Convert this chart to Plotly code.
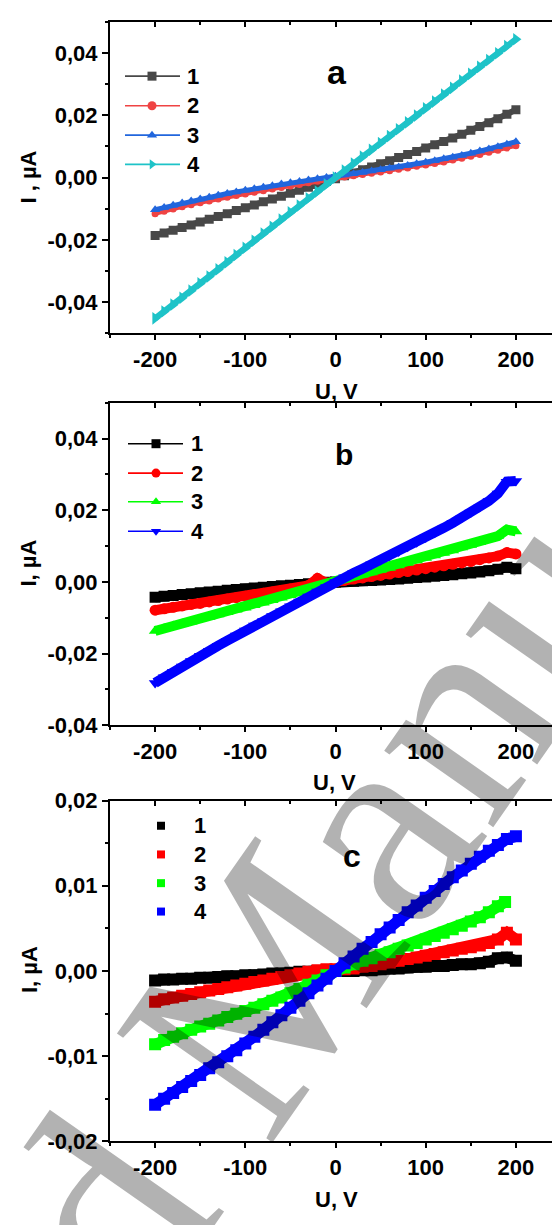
import plotly.graph_objects as go

# ---------------- data (current I in µA vs bias U in V) ----------------
U = [-200, -190, -180, -170, -160, -150, -140, -130, -120, -110,
     -100, -90, -80, -70, -60, -50, -40, -30, -20, -10,
     0, 10, 20, 30, 40, 50, 60, 70, 80, 90,
     100, 110, 120, 130, 140, 150, 160, 170, 180, 190, 200]

# panel a
A1 = [-0.0186, -0.0178, -0.0169, -0.0160, -0.0152, -0.0143, -0.0134, -0.0125, -0.0116, -0.0106,
      -0.0097, -0.0088, -0.0078, -0.0069, -0.0060, -0.0050, -0.0041, -0.0031, -0.0022, -0.0013,
      -0.0004, 0.0006, 0.0015, 0.0025, 0.0034, 0.0044, 0.0054, 0.0064, 0.0074, 0.0084,
      0.0095, 0.0105, 0.0116, 0.0127, 0.0139, 0.0152, 0.0164, 0.0176, 0.0189, 0.0203, 0.0218]
A2 = [-0.0116, -0.0108, -0.0101, -0.0094, -0.0087, -0.0081, -0.0075, -0.0069, -0.0063, -0.0058,
      -0.0053, -0.0047, -0.0042, -0.0037, -0.0032, -0.0027, -0.0022, -0.0017, -0.0012, -0.0007,
      -0.0002, 0.0002, 0.0006, 0.0010, 0.0014, 0.0018, 0.0022, 0.0027, 0.0031, 0.0036,
      0.0040, 0.0045, 0.0050, 0.0056, 0.0062, 0.0068, 0.0074, 0.0081, 0.0088, 0.0095, 0.0102]
A3 = [-0.0103, -0.0096, -0.0089, -0.0082, -0.0075, -0.0069, -0.0063, -0.0057, -0.0051, -0.0046,
      -0.0041, -0.0036, -0.0031, -0.0026, -0.0021, -0.0017, -0.0013, -0.0008, -0.0004, 0.0000,
      0.0004, 0.0008, 0.0012, 0.0016, 0.0021, 0.0025, 0.0030, 0.0034, 0.0039, 0.0044,
      0.0049, 0.0054, 0.0060, 0.0065, 0.0071, 0.0078, 0.0085, 0.0092, 0.0099, 0.0107, 0.0115]
A4 = [-0.0452, -0.0430, -0.0408, -0.0386, -0.0363, -0.0340, -0.0318, -0.0295, -0.0272, -0.0249,
      -0.0226, -0.0203, -0.0180, -0.0158, -0.0135, -0.0112, -0.0090, -0.0067, -0.0045, -0.0022,
      0.0000, 0.0022, 0.0045, 0.0067, 0.0089, 0.0111, 0.0133, 0.0155, 0.0177, 0.0199,
      0.0222, 0.0244, 0.0266, 0.0288, 0.0311, 0.0333, 0.0355, 0.0377, 0.0399, 0.0422, 0.0444]

# panel b
B1 = [-0.0043, -0.0040, -0.0038, -0.0035, -0.0033, -0.0030, -0.0028, -0.0026, -0.0023, -0.0021,
      -0.0019, -0.0017, -0.0015, -0.0013, -0.0011, -0.0009, -0.0007, -0.0005, -0.0003, -0.0001,
      0.0000, 0.0001, 0.0002, 0.0003, 0.0004, 0.0005, 0.0007, 0.0008, 0.0010, 0.0012,
      0.0014, 0.0016, 0.0018, 0.0020, 0.0023, 0.0025, 0.0028, 0.0031, 0.0035, 0.0041, 0.0037]
B2 = [-0.0079, -0.0075, -0.0071, -0.0067, -0.0063, -0.0060, -0.0056, -0.0052, -0.0048, -0.0044,
      -0.0040, -0.0036, -0.0032, -0.0028, -0.0024, -0.0020, -0.0016, -0.0010, 0.0010, -0.0003,
      0.0000, 0.0004, 0.0008, 0.0011, 0.0015, 0.0018, 0.0022, 0.0026, 0.0029, 0.0033,
      0.0037, 0.0041, 0.0045, 0.0049, 0.0053, 0.0057, 0.0062, 0.0067, 0.0072, 0.0082, 0.0078]
B3 = [-0.0137, -0.0130, -0.0123, -0.0117, -0.0111, -0.0104, -0.0098, -0.0091, -0.0085, -0.0078,
      -0.0072, -0.0065, -0.0058, -0.0051, -0.0044, -0.0037, -0.0030, -0.0022, -0.0015, -0.0007,
      0.0000, 0.0007, 0.0013, 0.0020, 0.0026, 0.0033, 0.0039, 0.0046, 0.0053, 0.0060,
      0.0067, 0.0074, 0.0081, 0.0088, 0.0096, 0.0103, 0.0111, 0.0119, 0.0128, 0.0146, 0.0141]
B4 = [-0.0282, -0.0266, -0.0251, -0.0236, -0.0221, -0.0206, -0.0192, -0.0178, -0.0164, -0.0150,
      -0.0136, -0.0122, -0.0109, -0.0095, -0.0082, -0.0068, -0.0055, -0.0041, -0.0027, -0.0014,
      0.0000, 0.0013, 0.0025, 0.0037, 0.0049, 0.0061, 0.0073, 0.0085, 0.0098, 0.0111,
      0.0124, 0.0137, 0.0151, 0.0165, 0.0179, 0.0194, 0.0209, 0.0226, 0.0247, 0.0280, 0.0282]

# panel c
C1 = [-0.0011, -0.0010, -0.0010, -0.0009, -0.0009, -0.0008, -0.0008, -0.0007, -0.0006, -0.0006,
      -0.0005, -0.0005, -0.0004, -0.0003, -0.0003, -0.0002, -0.0001, -0.0001, 0.0000, 0.0001,
      0.0001, 0.0000, 0.0000, 0.0001, 0.0001, 0.0002, 0.0003, 0.0003, 0.0004, 0.0005,
      0.0005, 0.0006, 0.0006, 0.0007, 0.0008, 0.0008, 0.0009, 0.0011, 0.0015, 0.0016, 0.0012]
C2 = [-0.0036, -0.0033, -0.0031, -0.0029, -0.0027, -0.0025, -0.0023, -0.0021, -0.0019, -0.0017,
      -0.0015, -0.0013, -0.0011, -0.0009, -0.0007, -0.0005, -0.0003, -0.0001, 0.0001, 0.0002,
      0.0002, 0.0002, 0.0003, 0.0005, 0.0006, 0.0008, 0.0010, 0.0012, 0.0014, 0.0016,
      0.0018, 0.0020, 0.0022, 0.0024, 0.0026, 0.0028, 0.0030, 0.0033, 0.0037, 0.0045, 0.0037]
U_C3 = [-200, -190, -180, -170, -160, -150, -140, -130, -120, -110,
        -100, -90, -80, -70, -60, -50, -40, -30, -20, -10,
        0, 10, 20, 30, 40, 50, 60, 70, 80, 90,
        100, 110, 120, 130, 140, 150, 160, 170, 180, 188]
C3 = [-0.0086, -0.0081, -0.0077, -0.0073, -0.0069, -0.0065, -0.0062, -0.0058, -0.0054, -0.0050,
      -0.0047, -0.0043, -0.0039, -0.0035, -0.0031, -0.0026, -0.0021, -0.0016, -0.0011, -0.0005,
      0.0000, 0.0004, 0.0008, 0.0012, 0.0015, 0.0019, 0.0022, 0.0026, 0.0030, 0.0033,
      0.0037, 0.0041, 0.0045, 0.0049, 0.0053, 0.0058, 0.0063, 0.0069, 0.0076, 0.0081]
C4 = [-0.0157, -0.0150, -0.0143, -0.0136, -0.0129, -0.0122, -0.0114, -0.0107, -0.0100, -0.0093,
      -0.0085, -0.0077, -0.0069, -0.0060, -0.0052, -0.0043, -0.0035, -0.0026, -0.0017, -0.0009,
      0.0000, 0.0009, 0.0017, 0.0026, 0.0034, 0.0043, 0.0051, 0.0060, 0.0069, 0.0077,
      0.0086, 0.0094, 0.0102, 0.0110, 0.0118, 0.0126, 0.0134, 0.0141, 0.0148, 0.0155, 0.0158]

SERIES_NAMES = ["1", "2", "3", "4"]
PANEL_LABELS = ["a", "b", "c"]

X_TICKS = [-200, -100, 0, 100, 200]
X_TICKTEXT = ["-200", "-100", "0", "100", "200"]
Y_TICKS_AB = [-0.04, -0.02, 0.0, 0.02, 0.04]
Y_TICKTEXT_AB = ["-0,04", "-0,02", "0,00", "0,02", "0,04"]
Y_TICKS_C = [-0.02, -0.01, 0.0, 0.01, 0.02]
Y_TICKTEXT_C = ["-0,02", "-0,01", "0,00", "0,01", "0,02"]

# ---------------- layout geometry (pixels) ----------------
W, H = 552, 1225
LEFT = 110
BOXES = [(10, 328), (399, 728), (805, 1153)]   # (top, bottom) of each plot area
X_RANGE = [-250, 240]
Y_RANGES = [[-0.05, 0.05], [-0.04, 0.05], [-0.02, 0.02]]

FONT = "Liberation Sans, Arial, sans-serif"


def ydom(top, bottom):
    return [1 - bottom / H, 1 - top / H]


fig = go.Figure()

styles_a = [
    dict(color="#484848", symbol="square", size=9, lw=6),
    dict(color="#ef4343", symbol="circle", size=7, lw=4),
    dict(color="#2166dd", symbol="triangle-up", size=9, lw=5),
    dict(color="#1ec3c8", symbol="triangle-right", size=11, lw=6),
]
styles_b = [
    dict(color="#000000", symbol="square", size=11, lw=10),
    dict(color="#ff0000", symbol="circle", size=11, lw=10),
    dict(color="#00ff00", symbol="triangle-up", size=11, lw=10),
    dict(color="#0000ff", symbol="triangle-down", size=11, lw=10),
]
styles_c = [
    dict(color="#000000", symbol="square", size=12, lw=11),
    dict(color="#ff0000", symbol="square", size=12, lw=11),
    dict(color="#00ff00", symbol="square", size=12, lw=11),
    dict(color="#0000ff", symbol="square", size=12, lw=11),
]

panels = [
    ("x", "y", [U, U, U, U], [A1, A2, A3, A4], styles_a),
    ("x2", "y2", [U, U, U, U], [B1, B2, B3, B4], styles_b),
    ("x3", "y3", [U, U, U_C3, U], [C1, C2, C3, C4], styles_c),
]

for xa, ya, xs, ys, sty in panels:
    for name, xv, yv, s in zip(SERIES_NAMES, xs, ys, sty):
        fig.add_trace(go.Scatter(
            x=xv, y=yv, name=name, mode="lines+markers", xaxis=xa, yaxis=ya,
            line=dict(color=s["color"], width=s["lw"]),
            marker=dict(symbol=s["symbol"], size=s["size"], color=s["color"], line=dict(width=0)),
            showlegend=False, hoverinfo="skip",
        ))

# ---------------- legend keys on a page-pixel overlay ----------------
PX, PY = "x7", "y7"
legend_rows = [
    [65.5, 95.7, 125.7, 155.5],
    [440.7, 470.7, 500.0, 530.0],
    [830.7, 860.0, 889.3, 918.3],
]
legend_line_x = [(125, 180, 152), (128, 183, 156), None]
legend_text_x = [193, 197, 200]

for p, (rows, sty) in enumerate(zip(legend_rows, [styles_a, styles_b, styles_c])):
    for r, s, name in zip(rows, sty, SERIES_NAMES):
        if legend_line_x[p] is not None:
            x0, x1, xm = legend_line_x[p]
            fig.add_trace(go.Scatter(
                x=[x0, x1], y=[r, r], mode="lines", xaxis=PX, yaxis=PY,
                line=dict(color=s["color"], width=1.6), showlegend=False, hoverinfo="skip"))
            fig.add_trace(go.Scatter(
                x=[xm], y=[r], mode="markers", xaxis=PX, yaxis=PY,
                marker=dict(symbol=s["symbol"], size=9, color=s["color"], line=dict(width=0)),
                showlegend=False, hoverinfo="skip"))
        else:
            fig.add_trace(go.Scatter(
                x=[161], y=[r], mode="markers", xaxis=PX, yaxis=PY,
                marker=dict(symbol="square", size=8, color=s["color"], line=dict(width=0)),
                showlegend=False, hoverinfo="skip"))
        fig.add_annotation(x=legend_text_x[p], y=r, xref=PX, yref=PY, text=name,
                           showarrow=False, xanchor="center", yanchor="middle",
                           font=dict(family=FONT, size=22, color="black", weight="bold"))

# ---------------- axes ----------------
axis_common = dict(showgrid=False, zeroline=False, showline=True, linecolor="black",
                   linewidth=2, tickcolor="black", tickwidth=1.5)
tickfont = dict(family=FONT, size=22, color="black", weight="bold")

layout_axes = {}
for i, ((top, bottom), yr) in enumerate(zip(BOXES, Y_RANGES)):
    n = "" if i == 0 else str(i + 1)
    ydomain = ydom(top, bottom)
    if i < 2:
        yt, ytt, ymin = Y_TICKS_AB, Y_TICKTEXT_AB, 0.01
    else:
        yt, ytt, ymin = Y_TICKS_C, Y_TICKTEXT_C, 0.005
    layout_axes["xaxis" + n] = dict(
        axis_common, domain=[LEFT / W, 1], range=X_RANGE, anchor="y" + n,
        tickmode="array", tickvals=X_TICKS, ticktext=X_TICKTEXT, ticks="outside", ticklen=5,
        tickfont=tickfont,
        minor=dict(tickmode="linear", tick0=0, dtick=50, ticks="outside", ticklen=3,
                   tickcolor="black", tickwidth=1.5),
    )
    layout_axes["yaxis" + n] = dict(
        axis_common, domain=ydomain, range=yr, anchor="x" + n,
        tickmode="array", tickvals=yt, ticktext=ytt, ticks="outside", ticklen=6,
        tickfont=tickfont,
        minor=dict(tickmode="linear", tick0=0, dtick=ymin, ticks="outside", ticklen=3,
                   tickcolor="black", tickwidth=1.5),
    )
    # top frame line with inward ticks
    tn = str(i + 4)
    layout_axes["xaxis" + tn] = dict(
        axis_common, domain=[LEFT / W, 1], range=X_RANGE, anchor="y" + n,
        overlaying="x" + n, side="top", tickmode="array", tickvals=X_TICKS,
        ticks="inside", ticklen=5, showticklabels=False,
        minor=dict(tickmode="linear", tick0=0, dtick=50, ticks="inside", ticklen=3,
                   tickcolor="black", tickwidth=1.5),
    )
    fig.add_trace(go.Scatter(x=[], y=[], xaxis="x" + tn, yaxis="y" + n,
                             showlegend=False, hoverinfo="skip"))

layout_axes["xaxis7"] = dict(domain=[0, 1], range=[0, W], visible=False, anchor="y7", fixedrange=True)
layout_axes["yaxis7"] = dict(domain=[0, 1], range=[H, 0], visible=False, anchor="x7", fixedrange=True)

# ---------------- titles and panel labels ----------------
title_font = dict(family=FONT, size=22, color="black", weight="bold")
y_titles = [("I , µA", 29, 169), ("I, µA", 29, 563), ("I, µA", 29, 978)]
x_titles = [("U, V", 336, 387), ("U, V", 334, 787), ("U, V", 336, 1212)]
panel_pos = [(337, 61, 34), (344, 452, 30), (352, 862, 32)]

for (t, x, y) in y_titles:
    fig.add_annotation(x=x, y=y, xref=PX, yref=PY, text=t, textangle=-90, showarrow=False,
                       xanchor="center", yanchor="middle", font=title_font)
for (t, x, y) in x_titles:
    fig.add_annotation(x=x, y=y, xref=PX, yref=PY, text=t, showarrow=False,
                       xanchor="center", yanchor="middle", font=title_font)
for lab, (x, y, s) in zip(PANEL_LABELS, panel_pos):
    fig.add_annotation(x=x, y=y, xref=PX, yref=PY, text=lab, showarrow=False,
                       xanchor="center", yanchor="middle",
                       font=dict(family=FONT, size=s, color="black", weight="bold"))

# diagonal watermark across the page
fig.add_annotation(x=232, y=1040, xref=PX, yref=PY, text="Accepted Manuscript",
                   textangle=-55, showarrow=False, xanchor="center", yanchor="middle",
                   font=dict(family="Liberation Serif, Times New Roman, serif", size=290,
                             color="rgba(0,0,0,0.3)"))

fig.update_layout(
    width=W, height=H, margin=dict(l=0, r=0, t=0, b=0),
    paper_bgcolor="white", plot_bgcolor="rgba(0,0,0,0)",
    showlegend=False, **layout_axes,
)

fig.write_html("out.html")
